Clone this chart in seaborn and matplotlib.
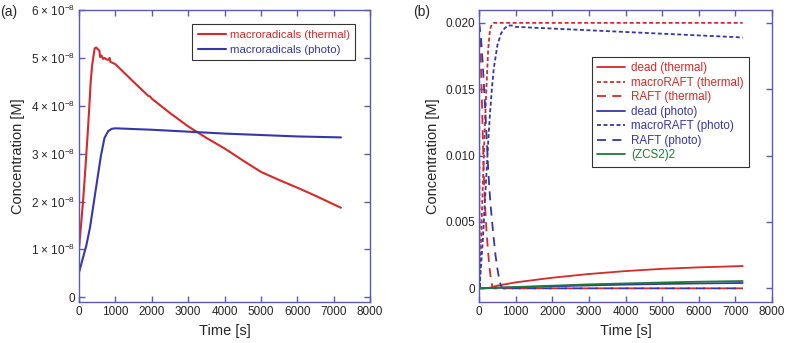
import matplotlib
matplotlib.use("Agg")
import matplotlib.pyplot as plt
import numpy as np
import pandas as pd
import seaborn as sns

# ---- panel (a): macroradicals, concentration in units of 1e-8 M
t_th_a = [0, 60, 120, 180, 240, 280, 320, 360, 400, 430, 470, 520, 560, 580, 620, 660, 700, 760,
          800, 840, 860, 1000, 1500, 1900, 1960, 2000, 2500, 3000, 3500, 4000, 4500, 5000,
          5500, 6000, 6500, 7170, 7200]
c_th_a = [1.02, 1.55, 2.1, 2.75, 3.45, 3.95, 4.5, 4.85, 5.05, 5.2, 5.22, 5.18, 5.15, 5.02, 5.05,
          4.98, 5.0, 4.97, 4.96, 5.0, 4.92, 4.87, 4.5, 4.21, 4.19, 4.15, 3.85, 3.57, 3.33, 3.11,
          2.86, 2.62, 2.45, 2.29, 2.12, 1.88, 1.87]
t_ph_a = [0, 100, 200, 300, 400, 500, 600, 700, 800, 900, 1000, 2000, 3000, 4000, 5000, 6000, 7200]
c_ph_a = [0.52, 0.8, 1.08, 1.45, 1.95, 2.45, 2.95, 3.33, 3.47, 3.52, 3.53, 3.5, 3.46, 3.42, 3.39,
          3.36, 3.34]

# ---- panel (b): RAFT species, concentration in M
t_long = [0, 250, 500, 1000, 2000, 3000, 4000, 5000, 6000, 7200]
dead_th = [0, 0.00002, 0.0002, 0.00045, 0.0008, 0.00108, 0.0013, 0.00147, 0.00158, 0.00168]
dead_ph = [0, 0.00001, 0.00004, 0.00008, 0.00015, 0.00022, 0.00028, 0.00033, 0.00037, 0.0004]
zcs2 = [0, 0.00002, 0.00005, 0.0001, 0.0002, 0.0003, 0.00037, 0.00044, 0.0005, 0.00055]

t_mr_th = [0, 60, 100, 150, 200, 250, 300, 350, 400, 7200]
mr_th = [0, 0.004, 0.0075, 0.0115, 0.015, 0.018, 0.0195, 0.0199, 0.0200, 0.0200]
t_raft_th = [0, 30, 60, 90, 120, 160, 200, 240, 280, 320, 360, 400, 7200]
raft_th = [0.02, 0.0185, 0.016, 0.013, 0.0095, 0.0065, 0.0045, 0.003, 0.0017, 0.0008, 0.0002, 0, 0]

t_mr_ph = [0, 15, 50, 100, 150, 200, 250, 300, 350, 400, 500, 600, 700, 800, 900, 1000, 7200]
mr_ph = [0.02, 0, 0.0015, 0.0035, 0.006, 0.0085, 0.011, 0.0132, 0.015, 0.0165, 0.0183, 0.0192,
         0.0196, 0.0198, 0.0198, 0.0197, 0.0189]
t_raft_ph = [0, 50, 100, 150, 200, 250, 300, 350, 400, 450, 500, 550, 600, 650, 7200]
raft_ph = [0.02, 0.019, 0.017, 0.0145, 0.0118, 0.009, 0.0068, 0.0052, 0.0038, 0.0025, 0.0015,
           0.0007, 0.0002, 0, 0]

RED = "#d42a2a"
BLUE = "#3636a8"
GREEN = "#1e7a34"
AXC = "#5a5ab4"

sns.set_style("white")
plt.rcParams["font.family"] = ["Liberation Sans", "DejaVu Sans"]
plt.rcParams["mathtext.fontset"] = "custom"
plt.rcParams["mathtext.rm"] = "Liberation Sans"
plt.rcParams["mathtext.it"] = "Liberation Sans"

fig = plt.figure(figsize=(7.88, 3.43), dpi=100)
ax1 = fig.add_axes([0.1003, 0.1195, 0.3693, 0.851])
ax2 = fig.add_axes([0.6079, 0.1195, 0.3718, 0.851])


def style_axes(ax):
    for s in ax.spines.values():
        s.set_color(AXC)
        s.set_linewidth(1.0)
    ax.tick_params(direction="in", length=4, width=1.0, color=AXC, labelsize=8.5,
                   top=True, right=True, bottom=True, left=True, pad=3)
    ax.set_xlim(0, 8000)
    ax.set_xticks(range(0, 8001, 1000))
    ax.set_xlabel("Time [s]", fontsize=10.5, labelpad=4)
    ax.set_ylabel("Concentration [M]", fontsize=10.5)


# (a)
sns.lineplot(x=t_th_a, y=np.array(c_th_a) * 1e-8, color=RED, lw=1.5, ax=ax1,
             label="macroradicals (thermal)")
sns.lineplot(x=t_ph_a, y=np.array(c_ph_a) * 1e-8, color=BLUE, lw=1.5, ax=ax1,
             label="macroradicals (photo)")
style_axes(ax1)
ax1.set_ylim(-0.1e-8, 6e-8)
ax1.set_yticks([k * 1e-8 for k in range(7)])
ax1.set_yticklabels(["0"] + [f"{k} × 10$^{{−8}}$" for k in range(1, 7)])
leg1 = ax1.legend(loc="upper left", bbox_to_anchor=(0.388, 0.953), fontsize=8.2,
                  frameon=True, fancybox=False, edgecolor="black", handlelength=2.5,
                  borderpad=0.5, labelspacing=0.45, handletextpad=0.3, borderaxespad=0)
leg1.get_frame().set_linewidth(0.8)
for txt, c in zip(leg1.get_texts(), [RED, BLUE]):
    txt.set_color(c)

# (b)
short = (0, (2.2, 1.4))
longd = (0, (5.0, 3.5))
series_b = [
    (t_long, dead_th, RED, "-", "dead (thermal)"),
    (t_mr_th, mr_th, RED, short, "macroRAFT (thermal)"),
    (t_raft_th, raft_th, RED, longd, "RAFT (thermal)"),
    (t_long, dead_ph, BLUE, "-", "dead (photo)"),
    (t_mr_ph, mr_ph, BLUE, short, "macroRAFT (photo)"),
    (t_raft_ph, raft_ph, BLUE, longd, "RAFT (photo)"),
    (t_long, zcs2, GREEN, "-", "(ZCS2)2"),
]
for tt, cc, col, ls, lab in series_b:
    sns.lineplot(x=tt, y=cc, color=col, ls=ls, lw=1.3, ax=ax2, label=lab)
style_axes(ax2)
ax2.set_ylim(-0.00103, 0.02096)
ax2.set_yticks([0, 0.005, 0.010, 0.015, 0.020])
ax2.set_yticklabels(["0", "0.005", "0.010", "0.015", "0.020"])
leg2 = ax2.legend(loc="upper left", bbox_to_anchor=(0.385, 0.84), fontsize=8.4,
                  frameon=True, fancybox=False, edgecolor="black", handlelength=2.4,
                  borderpad=0.45, labelspacing=0.22, handletextpad=0.55, borderaxespad=0)
leg2.get_frame().set_linewidth(0.8)
for txt, (_, _, col, _, _) in zip(leg2.get_texts(), series_b):
    txt.set_color(col)

fig.text(0.0, 0.985, "(a)", fontsize=10, va="top", ha="left")
fig.text(0.524, 0.985, "(b)", fontsize=10, va="top", ha="left")

fig.savefig("out.png", dpi=100)
